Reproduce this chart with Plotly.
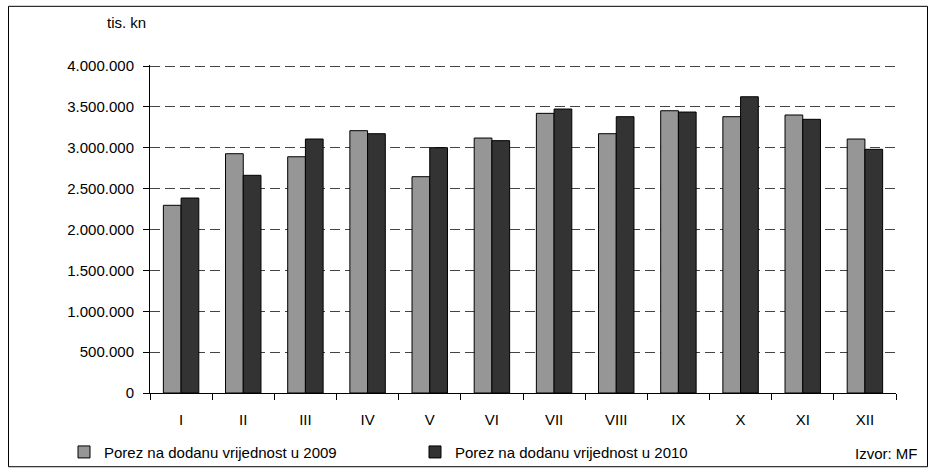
import plotly.graph_objects as go

months = ["I", "II", "III", "IV", "V", "VI", "VII", "VIII", "IX", "X", "XI", "XII"]
pdv_2009 = [2296000, 2927000, 2890000, 3209000, 2646000, 3119000,
            3421000, 3172000, 3453000, 3380000, 3401000, 3107000]
pdv_2010 = [2385000, 2663000, 3107000, 3172000, 3001000, 3087000,
            3474000, 3380000, 3437000, 3624000, 3348000, 2981000]
y_ticks = [0, 500000, 1000000, 1500000, 2000000, 2500000, 3000000, 3500000, 4000000]

W, H = 930, 472
L, R, T, B = 150, 34, 66, 79
pw, ph = W - L - R, H - T - B

def px(x):
    return (x - L) / pw

def py(y):
    return (H - B - y) / ph

FONT = "Liberation Sans, Arial, sans-serif"
FS = 15

fig = go.Figure()
fig.add_trace(go.Bar(x=months, y=pdv_2009, name="Porez na dodanu vrijednost u 2009",
                     marker=dict(color="#969696", line=dict(color="#000000", width=1))))
fig.add_trace(go.Bar(x=months, y=pdv_2010, name="Porez na dodanu vrijednost u 2010",
                     marker=dict(color="#333333", line=dict(color="#000000", width=1))))

fig.update_layout(
    width=W, height=H,
    margin=dict(l=L, r=R, t=T - 1, b=B, pad=0, autoexpand=False),
    paper_bgcolor="white", plot_bgcolor="white",
    font=dict(family=FONT, size=FS, color="#000000"),
    separators=",.",
    barmode="group", bargap=0.43, bargroupgap=0,
    showlegend=True,
    legend=dict(orientation="h", x=px(64), xanchor="left", y=py(452), yanchor="middle",
                entrywidth=306, entrywidthmode="pixels",
                font=dict(family=FONT, size=FS, color="#000000"),
                bgcolor="rgba(0,0,0,0)", borderwidth=0, traceorder="normal"),
    xaxis=dict(type="category", showline=True, linecolor="#000000", linewidth=1,
               ticks="outside", tickson="boundaries", ticklen=6, tickcolor="#000000",
               showgrid=False, ticklabelstandoff=13,
               tickfont=dict(family=FONT, size=FS, color="#000000")),
    yaxis=dict(range=[0, 4012500], tickvals=y_ticks, tickformat=",d",
               showline=True, linecolor="#000000", linewidth=1,
               ticks="outside", ticklen=6, tickcolor="#000000",
               showgrid=True, gridcolor="#444444", gridwidth=1, griddash="10px,5px",
               zeroline=False, ticklabelstandoff=6,
               tickfont=dict(family=FONT, size=FS, color="#000000")),
    annotations=[
        dict(text="tis. kn", x=px(126), y=py(24), xref="paper", yref="paper",
             showarrow=False, xanchor="center", yanchor="middle",
             font=dict(family=FONT, size=FS, color="#000000")),
        dict(text="Izvor: MF", x=px(920), y=py(453), xref="paper", yref="paper",
             showarrow=False, xanchor="right", yanchor="middle",
             font=dict(family=FONT, size=FS, color="#000000")),
    ],
    shapes=[
        dict(type="rect", xref="paper", yref="paper",
             x0=px(8.5), x1=px(927.5), y0=py(466.5), y1=py(7.5),
             line=dict(color="#000000", width=1), fillcolor="rgba(0,0,0,0)", layer="below"),
    ],
)

fig.write_html("out.html", config={"displayModeBar": False},
               post_script="document.body.style.margin='0';document.body.style.padding='0';")
